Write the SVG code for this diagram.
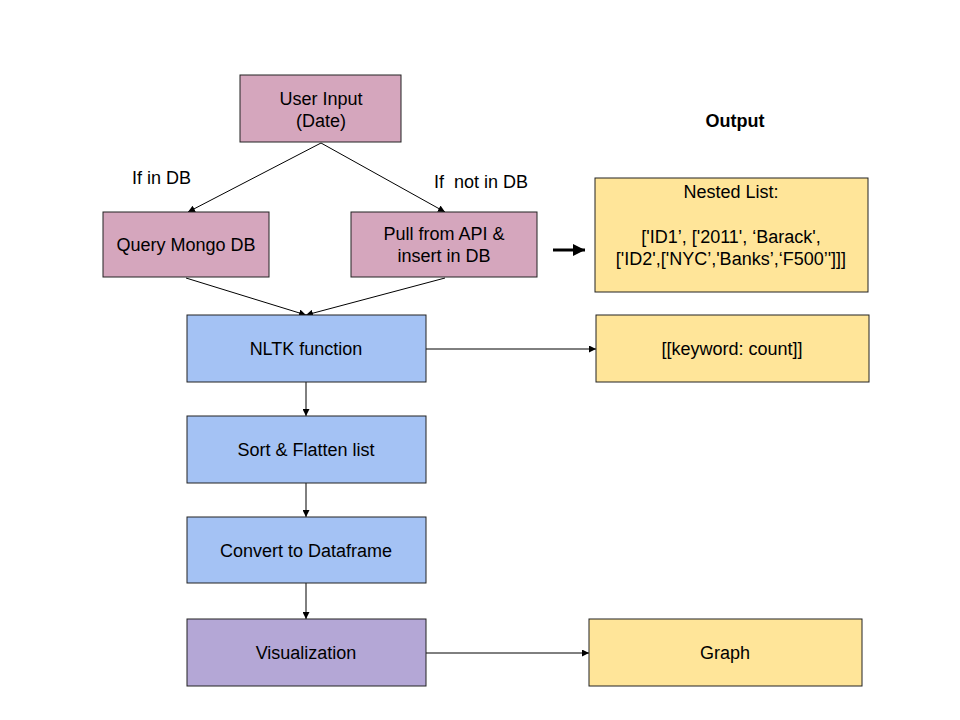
<svg xmlns="http://www.w3.org/2000/svg" width="960" height="720" viewBox="0 0 960 720">
<style>
.n{stroke:#222;stroke-width:1}
.pink{fill:#d5a6bd}.blue{fill:#a4c2f4}.purple{fill:#b4a7d6}.yellow{fill:#ffe599}
text{font-family:"Liberation Sans",Arial,sans-serif;font-size:18px;fill:#000;text-anchor:middle}
.lbl{text-anchor:start}
.c{stroke:#000;stroke-width:1;fill:none;marker-end:url(#ah)}
</style>
<defs>
<marker id="ah" viewBox="0 0 10 10" refX="10" refY="5" markerWidth="7" markerHeight="7" markerUnits="userSpaceOnUse" orient="auto"><path d="M0,0 L10,5 L0,10 z" fill="#000"/></marker>
<marker id="ahb" viewBox="0 0 10 10" refX="10" refY="5" markerWidth="4" markerHeight="4" orient="auto"><path d="M0,0 L10,5 L0,10 z" fill="#000"/></marker>
</defs>
<rect width="960" height="720" fill="#fff"/>
<g id="connectors">
<path class="c" d="M321,143 L188,212"/>
<path class="c" d="M321,143 L445,212"/>
<path class="c" d="M186,278 L306,315"/>
<path class="c" d="M445,278 L306,315"/>
<path class="c" d="M426,349 L596,349"/>
<path class="c" d="M306,382 L306,416"/>
<path class="c" d="M306,483 L306,517"/>
<path class="c" d="M306,583 L306,619"/>
<path class="c" d="M426,653 L589,653"/>
<path d="M553,250 L585,250" stroke="#000" stroke-width="3" fill="none" marker-end="url(#ahb)"/>
</g>
<g id="user-input"><rect class="n pink" x="240" y="75" width="161" height="67"/><text x="321" y="105">User Input</text><text x="321" y="127">(Date)</text></g>
<g id="query-mongo"><rect class="n pink" x="103" y="212" width="166" height="65"/><text x="186" y="251">Query Mongo DB</text></g>
<g id="pull-api"><rect class="n pink" x="351" y="212" width="186" height="65"/><text x="444" y="240">Pull from API &amp;</text><text x="444" y="262">insert in DB</text></g>
<g id="nltk"><rect class="n blue" x="187" y="315" width="239" height="67"/><text x="306" y="355">NLTK function</text></g>
<g id="sort"><rect class="n blue" x="187" y="416" width="239" height="67"/><text x="306" y="456">Sort &amp; Flatten list</text></g>
<g id="convert"><rect class="n blue" x="187" y="517" width="239" height="66"/><text x="306" y="557">Convert to Dataframe</text></g>
<g id="visualization"><rect class="n purple" x="187" y="619" width="239" height="67"/><text x="306" y="659">Visualization</text></g>
<g id="nested-list"><rect class="n yellow" x="595" y="178" width="273" height="114"/><text x="731" y="198">Nested List:</text><text x="731" y="243">['ID1’, ['2011', ‘Barack',</text><text x="731" y="265">['ID2',['NYC’,'Banks’,‘F500’']]]</text></g>
<g id="keyword-count"><rect class="n yellow" x="596" y="315" width="273" height="67"/><text x="732" y="355">[[keyword: count]]</text></g>
<g id="graph"><rect class="n yellow" x="589" y="619" width="273" height="67"/><text x="725" y="659">Graph</text></g>
<g id="labels">
<text class="lbl" x="132" y="184">If in DB</text>
<text class="lbl" x="434" y="188" xml:space="preserve">If  not in DB</text>
<text x="735" y="127" style="font-weight:bold">Output</text>
</g>
</svg>
